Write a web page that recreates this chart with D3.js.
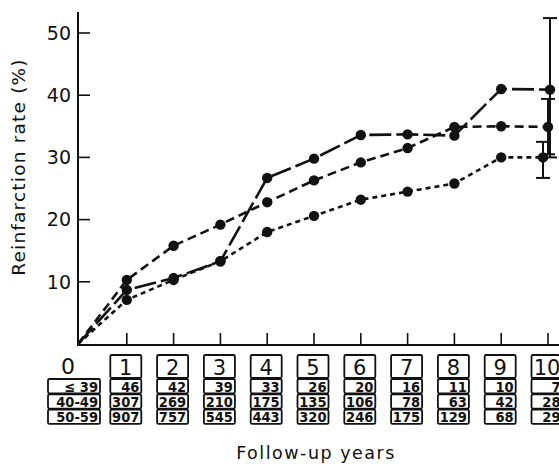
<!DOCTYPE html>
<html lang="en">
<head>
<meta charset="utf-8">
<title>Reinfarction rate by follow-up year</title>
<script src="https://d3js.org/d3.v7.min.js"></script>
<style>
  body { margin: 0; background: #fff; }
  svg { display: block; }
  text { font-family: "DejaVu Sans", "Liberation Sans", sans-serif; fill: #111; }
</style>
</head>
<body>
<script>
// follow-up years and the three curves
var years = [0, 1, 2, 3, 4, 5, 6, 7, 8, 9, 10];
var longDash  = [0, 8.7, 10.6, 13.3, 26.7, 29.8, 33.6, 33.7, 33.5, 41.0, 40.9];
var midDash   = [0, 10.3, 15.8, 19.2, 22.8, 26.3, 29.2, 31.5, 34.9, 35.0, 34.9];
var shortDash = [0, 7.1, 10.3, 13.3, 18.0, 20.6, 23.2, 24.5, 25.8, 30.0, 30.0];

// error bars at year 10 (long, mid, short)
var errLow  = [30.0, 30.5, 26.7];
var errHigh = [52.4, 39.4, 32.5];

var yTicks = [10, 20, 30, 40, 50];

// numbers at risk under each year
var rowLabels = ["\u2264 39", "40-49", "50-59"];
var n39   = [46, 42, 39, 33, 26, 20, 16, 11, 10, 7];
var n4049 = [307, 269, 210, 175, 135, 106, 78, 63, 42, 28];
var n5059 = [907, 757, 545, 443, 320, 246, 175, 129, 68, 29];

var width = 559, height = 466;
var svg = d3.select("body").append("svg")
    .attr("width", width).attr("height", height);

var x = d3.scaleLinear().domain([0, 10]).range([80, 548]);
var y = d3.scaleLinear().domain([0, 50]).range([344, 33]);
var axisX = 78, baseY = 345;

// axes
svg.append("line").attr("x1", axisX).attr("x2", axisX).attr("y1", 12).attr("y2", baseY + 1)
    .attr("stroke", "#111").attr("stroke-width", 2);
svg.append("line").attr("x1", axisX).attr("x2", width).attr("y1", baseY).attr("y2", baseY)
    .attr("stroke", "#111").attr("stroke-width", 2);

svg.selectAll(".ytick").data(yTicks).enter().append("line")
    .attr("x1", axisX).attr("x2", axisX + 12)
    .attr("y1", function(d) { return y(d); }).attr("y2", function(d) { return y(d); })
    .attr("stroke", "#111").attr("stroke-width", 1.6);
svg.selectAll(".ylab").data(yTicks).enter().append("text")
    .attr("x", 71).attr("y", function(d) { return y(d); })
    .attr("dy", "0.36em").attr("text-anchor", "end")
    .attr("font-size", 19).text(function(d) { return d; });

svg.selectAll(".xtick").data(years.slice(1)).enter().append("line")
    .attr("x1", function(d) { return x(d); }).attr("x2", function(d) { return x(d); })
    .attr("y1", baseY).attr("y2", baseY - 12)
    .attr("stroke", "#111").attr("stroke-width", 1.6);

svg.append("text")
    .attr("transform", "translate(25,167) rotate(-90)")
    .attr("text-anchor", "middle").attr("font-size", 18.5).attr("letter-spacing", 1.2)
    .text("Reinfarction rate (%)");

// curves
var series = [
  { values: longDash,  dash: "22,5", dodge: 2 },
  { values: midDash,   dash: "9,5",  dodge: 0 },
  { values: shortDash, dash: "5,4",  dodge: -5 }
];

function px(s, i) { return x(years[i]) + (i === 10 ? s.dodge : 0); }

var line = d3.line();
series.forEach(function(s, k) {
  var pts = s.values.map(function(v, i) { return [i === 0 ? axisX : px(s, i), y(v)]; });
  svg.append("path").attr("d", line(pts))
      .attr("fill", "none").attr("stroke", "#111").attr("stroke-width", 2.6)
      .attr("stroke-dasharray", s.dash);
  svg.selectAll(".pt" + k).data(s.values.slice(1)).enter().append("circle")
      .attr("cx", function(d, i) { return px(s, i + 1); })
      .attr("cy", function(d) { return y(d); })
      .attr("r", 5.2).attr("fill", "#111");

  // error bar at year 10
  var ex = px(s, 10);
  svg.append("line").attr("x1", ex).attr("x2", ex)
      .attr("y1", y(errLow[k])).attr("y2", y(errHigh[k]))
      .attr("stroke", "#111").attr("stroke-width", 2);
  [errLow[k], errHigh[k]].forEach(function(v) {
    svg.append("line").attr("x1", ex - 7).attr("x2", ex + 7)
        .attr("y1", y(v)).attr("y2", y(v))
        .attr("stroke", "#111").attr("stroke-width", 2);
  });
});

// table of numbers at risk
var headTop = 355, headH = 23, rowH = 15.3, cellW = 31;
var rows = [n39, n4049, n5059];
var cellFont = "'DejaVu Sans Condensed', 'DejaVu Sans', sans-serif";

svg.append("text").attr("x", 68).attr("y", headTop + headH / 2)
    .attr("dy", "0.36em").attr("text-anchor", "middle").attr("font-size", 22).text("0");

rowLabels.forEach(function(lab, r) {
  var top = headTop + headH + 1 + r * rowH;
  svg.append("rect").attr("x", 48).attr("y", top).attr("width", 52).attr("height", rowH - 1)
      .attr("rx", 1.5).attr("fill", "none").attr("stroke", "#111").attr("stroke-width", 1.8);
  svg.append("text").attr("x", 98).attr("y", top + rowH / 2)
      .attr("dy", "0.36em").attr("text-anchor", "end").attr("font-size", 14.5)
      .style("font-family", cellFont).attr("font-weight", "bold").text(lab);
});

years.slice(1).forEach(function(yr, c) {
  var left = x(yr) - cellW / 2 - 1;
  svg.append("rect").attr("x", left).attr("y", headTop).attr("width", cellW).attr("height", headH)
      .attr("rx", 1.5).attr("fill", "none").attr("stroke", "#111").attr("stroke-width", 1.8);
  svg.append("text").attr("x", left + cellW / 2).attr("y", headTop + headH / 2 + 1)
      .attr("dy", "0.36em").attr("text-anchor", "middle").attr("font-size", 21).text(yr);
  rows.forEach(function(vals, r) {
    var top = headTop + headH + 1 + r * rowH;
    svg.append("rect").attr("x", left).attr("y", top).attr("width", cellW).attr("height", rowH - 1)
        .attr("rx", 1.5).attr("fill", "none").attr("stroke", "#111").attr("stroke-width", 1.8);
    svg.append("text").attr("x", left + cellW - 2).attr("y", top + rowH / 2)
        .attr("dy", "0.36em").attr("text-anchor", "end").attr("font-size", 14.5)
        .style("font-family", cellFont).attr("font-weight", "bold").text(vals[c]);
  });
});

svg.append("text").attr("x", 316).attr("y", 459)
    .attr("text-anchor", "middle").attr("font-size", 17.5).attr("letter-spacing", 1.5)
    .text("Follow-up years");
</script>
</body>
</html>
